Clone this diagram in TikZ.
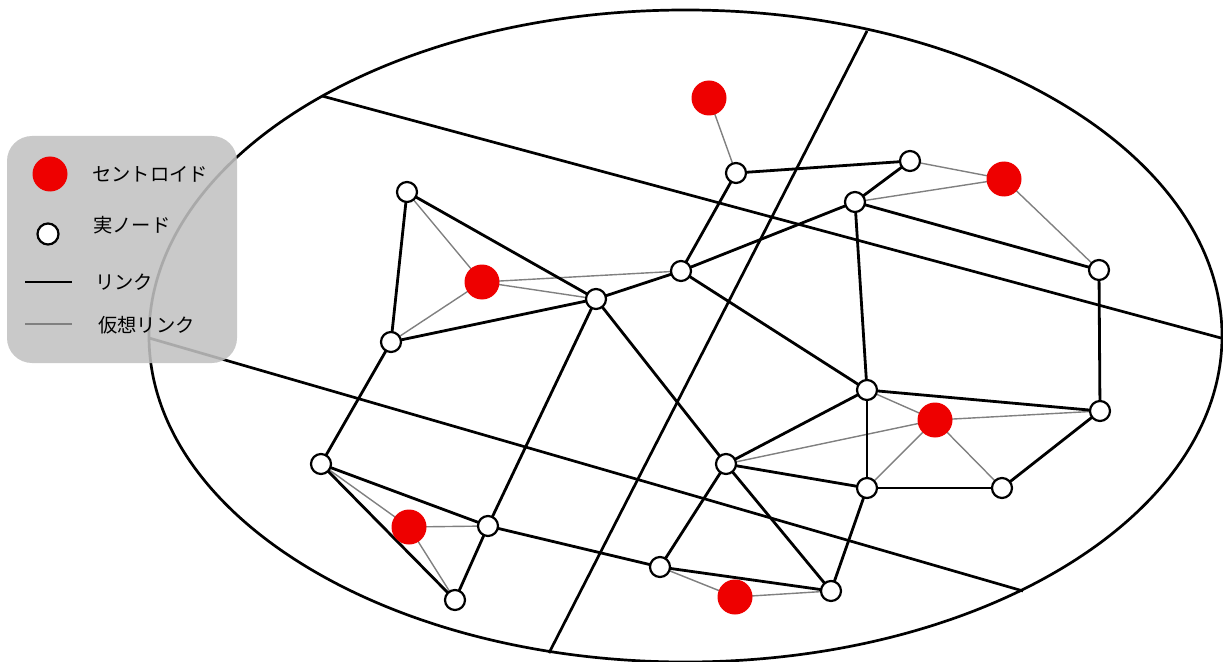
\documentclass[tikz,border=0pt]{standalone}
\usepackage{fontspec}
\newfontfamily\jp{Noto Sans CJK JP}
\definecolor{cred}{RGB}{238,0,0}
\definecolor{vgray}{RGB}{128,128,128}
\definecolor{leggray}{RGB}{193,193,193}
\begin{document}
\begin{tikzpicture}[x=1bp,y=-1bp,
  realnode/.style={circle,draw=black,fill=white,line width=2.2bp,minimum size=20bp,inner sep=0pt},
  centroid/.style={circle,fill=cred,minimum size=35bp,inner sep=0pt},
  link/.style={line width=2.8bp,black},
  vlink/.style={line width=1.4bp,vgray},
  part/.style={line width=2.7bp,black},
  legtext/.style={anchor=west,inner sep=0pt,font=\jp\fontsize{19.3bp}{22bp}\selectfont}]
\useasboundingbox (0,0) rectangle (1223,662);
% region ellipse and partition lines
\draw[part] (685.5,336) ellipse [x radius=536.5bp, y radius=326bp];
\coordinate (p1a) at (322,96);
\coordinate (p1b) at (1221,338);
\coordinate (p2a) at (867,31);
\coordinate (p2b) at (549,653);
\coordinate (p3a) at (149,338);
\coordinate (p3b) at (1023,591);
\draw[part] (p1a) -- (p1b);
\draw[part] (p2a) -- (p2b);
\draw[part] (p3a) -- (p3b);
% node positions
\coordinate (A) at (407,192);
\coordinate (B) at (391,342);
\coordinate (C) at (596,299);
\coordinate (D) at (681,271);
\coordinate (E) at (736,173);
\coordinate (F) at (910,161);
\coordinate (G) at (855,202);
\coordinate (H) at (1099,270);
\coordinate (I) at (867,390);
\coordinate (J) at (1100,411);
\coordinate (K) at (726,464);
\coordinate (L) at (867,488);
\coordinate (M) at (1002,488);
\coordinate (N) at (321,464);
\coordinate (O) at (488,526);
\coordinate (P) at (455,600);
\coordinate (Q) at (660,567);
\coordinate (R) at (831,591);
\coordinate (c1) at (482,282);
\coordinate (c2) at (709,98);
\coordinate (c3) at (1004,179);
\coordinate (c4) at (935,420);
\coordinate (c5) at (409,527);
\coordinate (c6) at (735,597);
% virtual links
\foreach \a/\b in {c1/A,c1/B,c1/C,c1/D,c2/E,c3/F,c3/G,c3/H,c4/I,c4/J,c4/K,c4/L,c4/M,c5/N,c5/O,c5/P,c6/Q,c6/R}
  \draw[vlink] (\a) -- (\b);
% links
\foreach \a/\b in {A/B,A/C,B/C,C/D,D/E,E/F,F/G,G/D,G/I,G/H,H/J,D/I,C/K,C/O,B/N,N/O,N/P,P/O,O/Q,Q/R,Q/K,K/R,K/I,K/L,I/L,I/J,L/M,M/J,L/R}
  \draw[link] (\a) -- (\b);
% nodes
\foreach \n in {A,B,C,D,E,F,G,H,I,J,K,L,M,N,O,P,Q,R}
  \node[realnode] (n\n) at (\n) {};
\foreach \n in {c1,c2,c3,c4,c5,c6}
  \node[centroid] (n\n) at (\n) {};
% legend
\fill[leggray,fill opacity=0.88,rounded corners=25bp] (7,136) rectangle (237,363);
\node[centroid] (lgc) at (50,174) {};
\node[legtext] (lgct) at (92,174) {セントロイド};
\node[realnode,minimum size=21bp] (lgn) at (48,234) {};
\node[legtext] (lgnt) at (93,225) {実ノード};
\coordinate (lla) at (25,282);
\coordinate (llb) at (72,282);
\draw[link] (lla) -- (llb);
\node[legtext] (llt) at (95,282) {リンク};
\coordinate (lva) at (25,324);
\coordinate (lvb) at (72,324);
\draw[vlink] (lva) -- (lvb);
\node[legtext] (lvt) at (98,325) {仮想リンク};
\end{tikzpicture}
\end{document}
